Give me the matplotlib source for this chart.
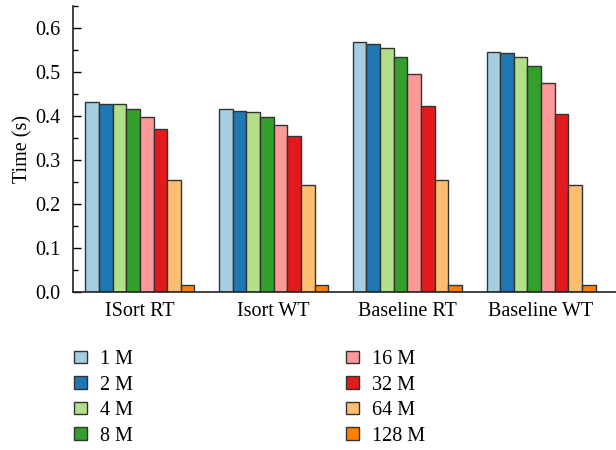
import numpy as np
import matplotlib.pyplot as plt
from matplotlib.ticker import MultipleLocator

plt.rcParams['font.family'] = ['Liberation Serif', 'DejaVu Serif']

groups = ['ISort RT', 'Isort WT', 'Baseline RT', 'Baseline WT']
sizes = ['1 M', '2 M', '4 M', '8 M', '16 M', '32 M', '64 M', '128 M']
colors = ['#a6cee3', '#1f78b4', '#b2df8a', '#33a02c',
          '#fb9a99', '#e31a1c', '#fdbf6f', '#ff7f00']

# time per group for each size
t_1m = [0.432, 0.416, 0.567, 0.545]
t_2m = [0.428, 0.411, 0.563, 0.542]
t_4m = [0.426, 0.409, 0.554, 0.533]
t_8m = [0.415, 0.398, 0.534, 0.513]
t_16m = [0.397, 0.380, 0.495, 0.475]
t_32m = [0.370, 0.354, 0.423, 0.405]
t_64m = [0.255, 0.243, 0.255, 0.243]
t_128m = [0.016, 0.015, 0.016, 0.015]
series = [t_1m, t_2m, t_4m, t_8m, t_16m, t_32m, t_64m, t_128m]

fig = plt.figure(figsize=(6.16, 4.5), dpi=100)
ax = fig.add_axes([0.1185, 0.351, 0.8815, 0.636])

x = np.arange(len(groups))
w = 0.102
for i, (vals, c, lab) in enumerate(zip(series, colors, sizes)):
    ax.bar(x + (i - 3.5) * w, vals, w, color=c, edgecolor='#333333',
           linewidth=1.0, label=lab)

ax.set_xlim(-0.5, 3.56)
ax.set_ylim(0, 0.65)
ax.set_xticks(x)
ax.set_xticklabels(groups, fontsize=14.5)
ax.tick_params(axis='x', length=0, pad=7)
ax.yaxis.set_minor_locator(MultipleLocator(0.05))
ax.set_yticks(np.arange(0, 0.61, 0.1))
ax.set_yticklabels(['%.1f' % v for v in np.arange(0, 0.61, 0.1)], fontsize=14.5)
ax.tick_params(axis='y', which='major', direction='in', length=6, width=1, pad=9)
ax.tick_params(axis='y', which='minor', direction='in', length=3.5, width=1)
ax.set_ylabel('Time (s)', fontsize=14.5, labelpad=2)
for s in ['top', 'right']:
    ax.spines[s].set_visible(False)
for s in ['left', 'bottom']:
    ax.spines[s].set_linewidth(1.2)
    ax.spines[s].set_color('#222222')

handles, labels = ax.get_legend_handles_labels()
fig.legend(handles, labels, ncol=2, loc='upper left',
           bbox_to_anchor=(0.090, 0.262), frameon=False, fontsize=14.5,
           handlelength=0.65, handleheight=0.55, columnspacing=10.6,
           labelspacing=0.32, handletextpad=0.65)

fig.savefig('out.png', dpi=100)
